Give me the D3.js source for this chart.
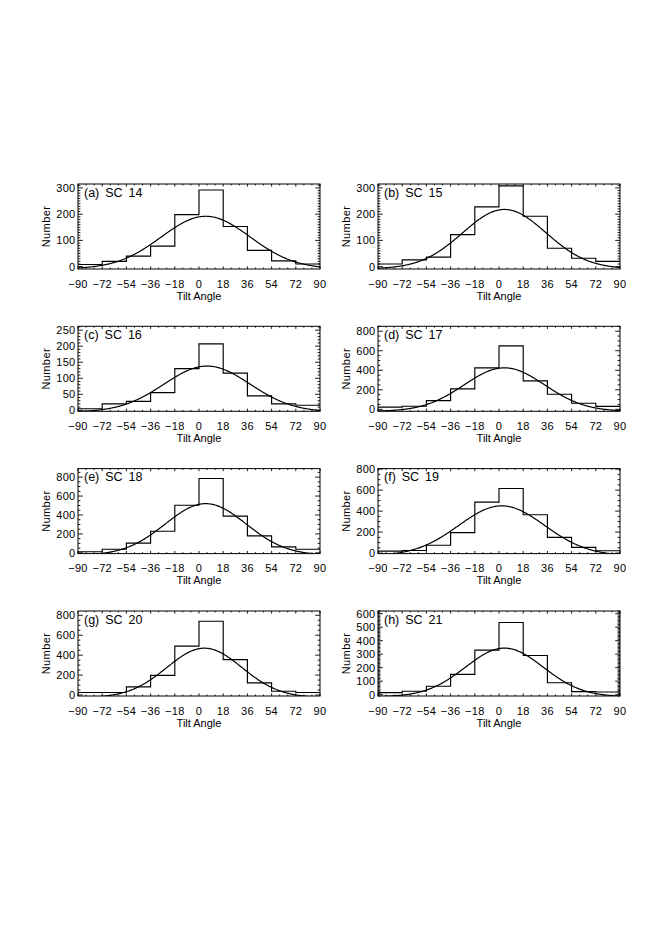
<!DOCTYPE html>
<html><head><meta charset="utf-8">
<script src="https://cdn.jsdelivr.net/npm/d3@7"></script>
<style>
body{margin:0;background:#fff}
text{font-family:"Liberation Sans",Arial,sans-serif;fill:#000}
</style>
</head><body>
<svg id="chart" width="665" height="940"></svg>
<script>
// ---------------- data ----------------
const panelNames = ["(a) SC 14","(b) SC 15","(c) SC 16","(d) SC 17","(e) SC 18","(f) SC 19","(g) SC 20","(h) SC 21"];
const binEdges = [-90,-72,-54,-36,-18,0,18,36,54,72,90];
const xTickValues = [-90,-72,-54,-36,-18,0,18,36,54,72,90];
const countsSC14 = [8,20,40,78,198,292,153,62,22,10];
const countsSC15 = [10,26,36,122,228,308,192,70,32,20];
const countsSC16 = [5,20,28,55,130,207,116,45,20,16];
const countsSC17 = [22,32,90,210,425,650,292,155,62,30];
const countsSC18 = [12,38,102,228,503,785,388,180,63,38];
const countsSC19 = [18,25,75,195,485,615,365,150,55,22];
const countsSC20 = [25,25,82,197,490,740,355,122,38,25];
const countsSC21 = [15,25,62,150,330,535,290,88,22,20];
// Gaussian fit parameters
const fitAmplitude = [200,226,143,445,545,475,495,360];
const fitCenter    = [5,4,6,4,5,2,4,4];
const fitSigma     = [33,31,32,30,30,32,28,29];
const fitOffset    = [-8,-8,-5,-20,-25,-25,-25,-15];
// y axis ranges and ticks
const yMin = [-9,-9,-3,-20,-8,-5,-10,-10];
const yMax = [315,315,262,850,890,805,843,620];
const yTicks = [
  [0,100,200,300],[0,100,200,300],[0,50,100,150,200,250],[0,200,400,600,800],
  [0,200,400,600,800],[0,200,400,600,800],[0,200,400,600,800],[0,100,200,300,400,500,600]
];
const yMinorStep = [10,10,10,50,50,50,50,10];
const xMinorStep = 6;
const xLabel = "Tilt Angle", yLabel = "Number";
const allCounts = [countsSC14,countsSC15,countsSC16,countsSC17,countsSC18,countsSC19,countsSC20,countsSC21];

// ---------------- layout ----------------
const svg = d3.select("#chart");
const colX = [78, 378];
const rowTop = [184, 326.3, 468.6, 611];
const pw = 242, ph = 85;

const fmt = v => (v < 0 ? "\u2212" + Math.abs(v) : String(v));

panelNames.forEach((name, i) => {
  const x0 = colX[i % 2], y0 = rowTop[Math.floor(i / 2)];
  const g = svg.append("g").attr("transform", `translate(${x0},${y0})`);
  const x = d3.scaleLinear().domain([-90, 90]).range([0, pw]);
  const y = d3.scaleLinear().domain([yMin[i], yMax[i]]).range([ph, 0]);

  const clipId = "clip" + i;
  g.append("clipPath").attr("id", clipId).append("rect").attr("width", pw).attr("height", ph);

  // histogram (step outline)
  const counts = allCounts[i];
  const pts = [];
  counts.forEach((c, k) => { pts.push([binEdges[k], c]); pts.push([binEdges[k + 1], c]); });
  g.append("path")
    .attr("clip-path", `url(#${clipId})`)
    .attr("d", d3.line().x(d => x(d[0])).y(d => y(d[1]))(pts))
    .attr("fill", "none").attr("stroke", "#000").attr("stroke-width", 1.15);

  // gaussian fit curve
  const xs = d3.range(-90, 90.01, 0.5);
  const curve = xs.map(t => [t, fitOffset[i] + fitAmplitude[i] * Math.exp(-((t - fitCenter[i]) ** 2) / (2 * fitSigma[i] ** 2))]);
  g.append("path")
    .attr("clip-path", `url(#${clipId})`)
    .attr("d", d3.line().x(d => x(d[0])).y(d => y(d[1])).curve(d3.curveLinear)(curve))
    .attr("fill", "none").attr("stroke", "#000").attr("stroke-width", 1.2);

  // frame
  g.append("rect").attr("width", pw).attr("height", ph)
    .attr("fill", "none").attr("stroke", "#000").attr("stroke-width", 1);

  // x ticks (inward, bottom and top)
  const xMajLen = 2.6, xMinLen = 1.4;
  const xMinor = d3.range(-90, 90.01, xMinorStep).filter(v => !xTickValues.includes(v));
  const tickG = g.append("g").attr("stroke", "#000").attr("stroke-width", 0.9);
  xTickValues.forEach(v => {
    tickG.append("line").attr("x1", x(v)).attr("x2", x(v)).attr("y1", ph).attr("y2", ph - xMajLen);
    tickG.append("line").attr("x1", x(v)).attr("x2", x(v)).attr("y1", 0).attr("y2", xMajLen);
  });
  xMinor.forEach(v => {
    tickG.append("line").attr("x1", x(v)).attr("x2", x(v)).attr("y1", ph).attr("y2", ph - xMinLen);
    tickG.append("line").attr("x1", x(v)).attr("x2", x(v)).attr("y1", 0).attr("y2", xMinLen);
  });
  // y ticks (inward, left and right)
  const yMajLen = 4.8, yMinLen = 2.4;
  const yMinorVals = d3.range(Math.ceil(yMin[i] / yMinorStep[i]) * yMinorStep[i], yMax[i] + 0.01, yMinorStep[i])
    .filter(v => !yTicks[i].includes(v));
  yTicks[i].forEach(v => {
    tickG.append("line").attr("x1", 0).attr("x2", yMajLen).attr("y1", y(v)).attr("y2", y(v));
    tickG.append("line").attr("x1", pw).attr("x2", pw - yMajLen).attr("y1", y(v)).attr("y2", y(v));
  });
  yMinorVals.forEach(v => {
    tickG.append("line").attr("x1", 0).attr("x2", yMinLen).attr("y1", y(v)).attr("y2", y(v));
    tickG.append("line").attr("x1", pw).attr("x2", pw - yMinLen).attr("y1", y(v)).attr("y2", y(v));
  });

  // tick labels
  xTickValues.forEach(v => {
    g.append("text").attr("x", x(v)).attr("y", ph + 18.5)
      .attr("text-anchor", "middle").attr("font-size", 11).attr("letter-spacing", 0.3)
      .text(fmt(v));
  });
  yTicks[i].forEach(v => {
    g.append("text").attr("x", -2.5).attr("y", y(v) + 3.9)
      .attr("text-anchor", "end").attr("font-size", 11).attr("letter-spacing", 0.3)
      .text(fmt(v));
  });

  // axis titles
  g.append("text").attr("x", pw / 2).attr("y", ph + 30.5)
    .attr("text-anchor", "middle").attr("font-size", 11).text(xLabel);
  g.append("text").attr("transform", `translate(-28.5,${ph / 2}) rotate(-90)`)
    .attr("text-anchor", "middle").attr("font-size", 11).attr("letter-spacing", 0.4).text(yLabel);

  // panel label
  g.append("text").attr("x", 6).attr("y", 12.5)
    .attr("font-size", 12.5).attr("word-spacing", 2.5).text(name);
});
</script>
</body></html>
